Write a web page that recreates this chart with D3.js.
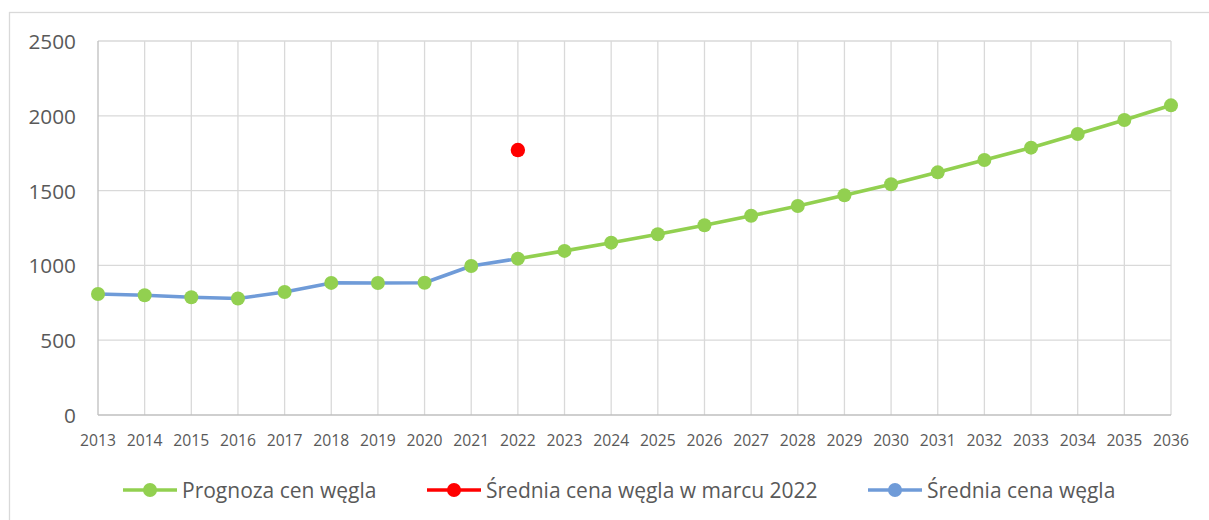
<!DOCTYPE html>
<html lang="pl">
<head>
<meta charset="utf-8">
<title>Prognoza cen węgla</title>
<script src="https://cdn.jsdelivr.net/npm/d3@7"></script>
<style>
  html, body { margin: 0; padding: 0; background: #fff; }
  svg { display: block; font-family: "Open Sans", "Noto Sans", sans-serif; }
</style>
</head>
<body>
<svg id="chart" width="1209" height="520"></svg>
<script>
// Years on the category axis
const years = d3.range(2013, 2037);

// Average coal price (historical), 2013–2022
const historyYears = [2013, 2014, 2015, 2016, 2017, 2018, 2019, 2020, 2021, 2022];
const historyPrice = [809, 800, 787, 779, 822, 883, 882, 884, 996, 1045];

// Coal price forecast, 2022–2036
const forecastYears = [2022, 2023, 2024, 2025, 2026, 2027, 2028, 2029, 2030, 2031, 2032, 2033, 2034, 2035, 2036];
const forecastPrice = [1045, 1097, 1152, 1208, 1268, 1332, 1397, 1469, 1542, 1622, 1705, 1787, 1878, 1972, 2070];

// Average coal price in March 2022
const marchYear = [2022];
const marchPrice = [1771];

const yTicks = [0, 500, 1000, 1500, 2000, 2500];

const legendLabels = ["Prognoza cen węgla", "Średnia cena węgla w marcu 2022", "Średnia cena węgla"];

const GREEN = "#92d050", BLUE = "#6f9bd8", RED = "#ff0000";
const GRID = "#d9d9d9", AXIS = "#bfbfbf", TEXT = "#595959";

const svg = d3.select("#chart");

// Chart frame
svg.append("rect")
  .attr("x", 9.5).attr("y", 12.5)
  .attr("width", 1230).attr("height", 530)
  .attr("fill", "none").attr("stroke", GRID).attr("stroke-width", 1.3);

const x = d3.scalePoint().domain(years).range([98, 1171]).padding(0);
const y = d3.scaleLinear().domain([0, 2500]).range([415, 41]);

// Horizontal gridlines
svg.append("g").selectAll("line").data(yTicks.filter(d => d > 0)).join("line")
  .attr("x1", x(2013)).attr("x2", x(2036))
  .attr("y1", d => y(d)).attr("y2", d => y(d))
  .attr("stroke", GRID).attr("stroke-width", 1.3);

// Vertical gridlines
svg.append("g").selectAll("line").data(years.slice(1)).join("line")
  .attr("x1", d => x(d)).attr("x2", d => x(d))
  .attr("y1", y(2500)).attr("y2", y(0))
  .attr("stroke", GRID).attr("stroke-width", 1.3);

// Axis lines
svg.append("line").attr("x1", x(2013)).attr("x2", x(2013))
  .attr("y1", y(2500)).attr("y2", y(0)).attr("stroke", AXIS).attr("stroke-width", 1.3);
svg.append("line").attr("x1", x(2013)).attr("x2", x(2036))
  .attr("y1", y(0)).attr("y2", y(0)).attr("stroke", AXIS).attr("stroke-width", 1.3);

// Y tick labels
svg.append("g").selectAll("text").data(yTicks).join("text")
  .attr("x", 76).attr("y", d => y(d))
  .attr("text-anchor", "end").attr("dominant-baseline", "central")
  .attr("font-size", 20.8).attr("fill", TEXT)
  .text(d => d);

// X tick labels
svg.append("g").selectAll("text").data(years).join("text")
  .attr("x", d => x(d)).attr("y", 446)
  .attr("text-anchor", "middle")
  .attr("font-size", 15.7).attr("fill", TEXT)
  .text(d => d);

const line = d3.line().x(d => x(d[0])).y(d => y(d[1]));

const history = historyYears.map((yr, i) => [yr, historyPrice[i]]);
const forecast = forecastYears.map((yr, i) => [yr, forecastPrice[i]]);
const march = marchYear.map((yr, i) => [yr, marchPrice[i]]);

// Forecast line
svg.append("path").datum(forecast)
  .attr("d", line).attr("fill", "none")
  .attr("stroke", GREEN).attr("stroke-width", 3.6).attr("stroke-linejoin", "round");

// Historical line
svg.append("path").datum(history)
  .attr("d", line).attr("fill", "none")
  .attr("stroke", BLUE).attr("stroke-width", 3.6).attr("stroke-linejoin", "round");

// Markers on every yearly point
svg.append("g").selectAll("circle").data(history.concat(forecast.slice(1))).join("circle")
  .attr("cx", d => x(d[0])).attr("cy", d => y(d[1])).attr("r", 7)
  .attr("fill", GREEN);

// March 2022 point
svg.append("g").selectAll("circle").data(march).join("circle")
  .attr("cx", d => x(d[0])).attr("cy", d => y(d[1])).attr("r", 7.2)
  .attr("fill", RED);

// Legend
const legendItems = [
  { label: legendLabels[0], color: GREEN, x0: 123 },
  { label: legendLabels[1], color: RED, x0: 427 },
  { label: legendLabels[2], color: BLUE, x0: 868 }
];
const ly = 490;
const lg = svg.append("g").selectAll("g").data(legendItems).join("g")
  .attr("transform", d => `translate(${d.x0},${ly})`);
lg.append("line").attr("x1", 0).attr("x2", 54).attr("y1", 0).attr("y2", 0)
  .attr("stroke", d => d.color).attr("stroke-width", 3.6);
lg.append("circle").attr("cx", 27).attr("cy", 0).attr("r", 7).attr("fill", d => d.color);
lg.append("text").attr("x", 59).attr("y", 0)
  .attr("dominant-baseline", "central")
  .attr("font-size", 21).attr("fill", TEXT)
  .text(d => d.label);
</script>
</body>
</html>
